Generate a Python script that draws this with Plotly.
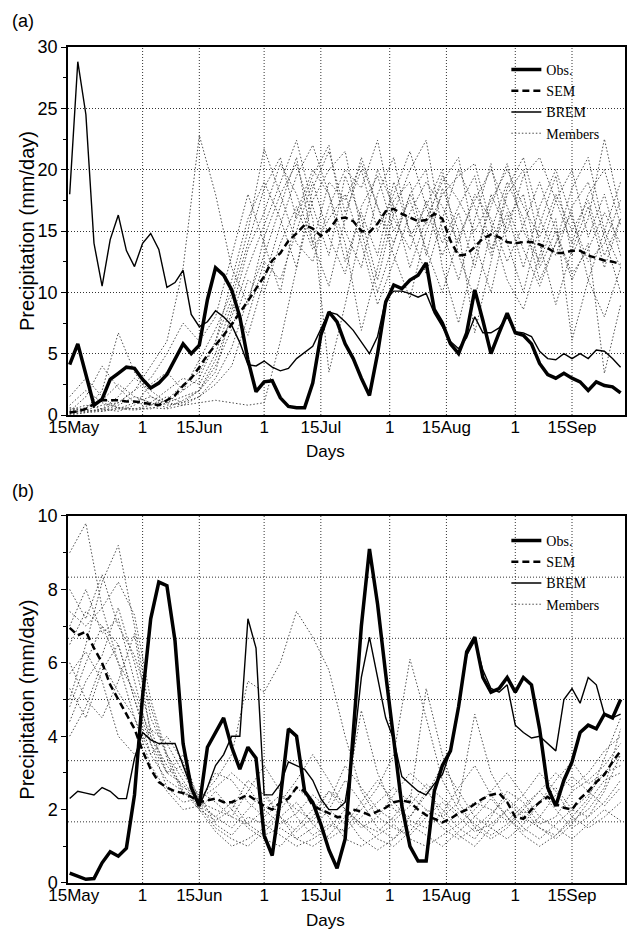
import pandas as pd
import plotly.graph_objects as go

# ---------------- data ----------------
dates = pd.date_range("2000-05-14", periods=69, freq="2D")
member_dates = pd.date_range("2000-05-14", periods=35, freq="4D")

tick_dates = ["2000-05-15", "2000-06-01", "2000-06-15", "2000-07-01", "2000-07-15",
              "2000-08-01", "2000-08-15", "2000-09-01", "2000-09-15"]
tick_labels = ["15May", "1", "15Jun", "1", "15Jul", "1", "15Aug", "1", "15Sep"]

# Panel (a)
obs_a = [4.1, 5.8, 3.3, 0.8, 1.3, 2.9, 3.4, 3.9, 3.8, 2.9,
         2.2, 2.6, 3.3, 4.6, 5.8, 5.0, 5.7, 9.4, 12.0, 11.4,
         10.2, 8.0, 4.5, 1.9, 2.7, 2.8, 1.4, 0.7, 0.6, 0.6,
         2.6, 6.5, 8.4, 7.6, 5.8, 4.6, 3.0, 1.6, 5.0, 9.2,
         10.6, 10.3, 11.0, 11.4, 12.4, 8.6, 7.5, 5.8, 5.0, 6.7,
         10.2, 7.7, 5.0, 6.7, 8.3, 6.7, 6.5, 5.8, 4.2, 3.3,
         3.0, 3.4, 3.0, 2.7, 2.0, 2.7, 2.4, 2.3, 1.8]
sem_a = [0.2, 0.3, 0.5, 0.9, 1.2, 1.2, 1.2, 1.1, 1.1, 1.0,
         0.9, 0.8, 1.2, 1.6, 2.4, 3.0, 3.9, 4.9, 5.7, 6.5,
         7.4, 8.3, 9.3, 10.3, 11.3, 12.6, 13.2, 14.2, 14.8, 15.5,
         15.2, 14.6, 15.1, 16.0, 16.1, 15.8, 15.0, 14.9, 15.6, 16.6,
         16.8, 16.4, 16.1, 15.8, 15.9, 16.4, 16.0, 14.2, 13.0, 13.1,
         13.7, 14.4, 14.7, 14.5, 14.1, 14.0, 14.1, 14.1, 13.9, 13.6,
         13.2, 13.2, 13.4, 13.4, 13.0, 12.8, 12.6, 12.5, 12.3]
brem_a = [18.0, 28.8, 24.5, 14.0, 10.5, 14.3, 16.3, 13.4, 12.1, 14.0,
          14.8, 13.5, 10.4, 10.8, 11.8, 8.2, 7.2, 7.6, 8.5, 8.0,
          7.3, 5.9, 4.1, 4.0, 4.4, 3.9, 3.6, 3.8, 4.6, 5.1,
          5.6, 7.0, 8.4, 8.2, 7.6, 6.9, 6.0, 5.0, 6.4, 9.4,
          10.1, 10.1, 9.9, 9.6, 9.9, 8.3, 7.2, 6.0, 5.4, 6.3,
          8.0, 6.7, 6.7, 7.1, 8.0, 6.8, 6.7, 6.4, 5.2, 4.6,
          4.5, 5.0, 4.6, 5.0, 4.6, 5.3, 5.2, 4.6, 3.9]

mem_a01 = [0.3, 1.5, 4.0, 2.2, 1.0, 0.8, 1.2, 2.5, 3.5, 6.0, 9.5, 14.0, 18.5, 21.0, 16.0, 19.5, 22.0, 15.0, 12.0, 18.0, 21.0, 14.5, 17.0, 20.0, 13.0, 9.5, 15.0, 19.0, 16.0, 11.0, 14.0, 18.5, 21.0, 15.0, 12.0]
mem_a02 = [0.1, 0.5, 2.0, 6.7, 3.5, 1.5, 1.0, 1.5, 2.0, 4.5, 8.0, 12.0, 15.5, 19.0, 22.4, 17.0, 13.0, 19.5, 16.0, 11.0, 16.5, 20.0, 22.4, 15.0, 11.0, 16.0, 20.5, 14.0, 10.0, 15.5, 19.5, 13.0, 16.0, 22.5, 16.5]
mem_a03 = [0.2, 0.4, 0.8, 1.0, 2.0, 3.0, 5.0, 7.5, 6.0, 8.0, 13.0, 18.0, 14.0, 10.0, 16.5, 20.0, 18.0, 14.0, 6.9, 12.0, 17.5, 19.0, 13.0, 18.5, 15.0, 6.7, 12.5, 18.0, 20.0, 14.0, 9.0, 13.5, 17.0, 12.0, 16.0]
mem_a04 = [0.5, 0.3, 0.5, 1.0, 2.0, 4.0, 6.0, 12.0, 22.8, 18.0, 12.0, 9.0, 14.5, 18.0, 20.5, 16.0, 3.5, 9.0, 15.0, 20.0, 17.0, 12.0, 16.0, 19.0, 21.0, 14.0, 10.0, 16.0, 18.0, 12.0, 15.0, 11.0, 14.0, 3.4, 9.0]
mem_a05 = [1.5, 3.0, 1.5, 0.5, 1.0, 1.5, 0.8, 1.0, 1.5, 3.0, 5.5, 9.5, 13.0, 17.0, 21.0, 14.0, 10.5, 16.0, 21.0, 17.0, 13.0, 9.5, 15.0, 18.0, 19.5, 20.5, 15.5, 11.0, 8.6, 13.0, 17.5, 20.0, 14.5, 18.0, 13.0]
mem_a06 = [0.0, 0.2, 0.3, 0.5, 0.4, 0.6, 0.5, 0.8, 1.0, 1.2, 1.0, 0.8, 1.0, 6.0, 12.0, 17.5, 20.0, 21.5, 15.0, 10.0, 14.0, 18.0, 20.0, 12.0, 7.5, 13.0, 17.0, 20.5, 15.0, 12.5, 16.0, 6.1, 11.0, 15.0, 19.0]
mem_a07 = [0.8, 2.0, 1.0, 0.6, 0.5, 0.5, 1.0, 2.0, 4.5, 7.0, 10.0, 15.0, 21.7, 18.0, 14.0, 12.5, 17.0, 20.0, 18.5, 22.4, 16.0, 13.5, 17.5, 14.0, 17.0, 19.5, 13.5, 16.5, 12.0, 17.0, 20.0, 16.0, 12.5, 14.0, 17.5]
mem_a08 = [0.3, 0.6, 1.2, 2.5, 1.5, 1.0, 2.0, 3.0, 2.5, 5.0, 9.0, 6.5, 11.0, 15.5, 19.5, 22.0, 18.0, 12.5, 16.5, 13.0, 19.0, 15.0, 11.5, 16.0, 20.0, 17.0, 13.0, 18.5, 21.0, 16.0, 13.0, 17.0, 19.0, 14.5, 10.0]
mem_a09 = [0.2, 0.3, 0.4, 0.8, 1.5, 1.0, 0.6, 1.2, 2.0, 4.0, 7.0, 11.0, 10.0, 14.0, 17.0, 13.5, 16.0, 18.0, 14.0, 9.0, 12.5, 16.5, 19.0, 17.0, 14.0, 18.0, 16.0, 12.5, 15.5, 19.0, 15.0, 11.5, 13.5, 16.5, 14.0]
mem_a10 = [0.4, 0.8, 0.5, 0.3, 0.8, 2.5, 3.5, 2.0, 3.0, 6.0, 11.0, 16.0, 19.0, 16.0, 12.0, 18.5, 21.5, 16.5, 20.0, 15.0, 18.0, 21.5, 17.0, 13.0, 16.5, 12.0, 18.0, 15.0, 19.5, 21.0, 17.5, 14.0, 18.0, 20.0, 15.5]
mem_a11 = [0.1, 0.2, 0.5, 1.5, 3.0, 2.0, 1.0, 0.8, 1.5, 2.5, 4.0, 8.0, 12.5, 11.0, 15.0, 19.0, 14.5, 11.5, 17.0, 19.5, 15.0, 17.5, 13.5, 10.0, 14.5, 17.5, 20.0, 17.0, 13.5, 10.5, 14.0, 16.5, 11.0, 8.0, 12.0]
mem_a12 = [0.6, 0.4, 0.3, 0.6, 0.5, 0.8, 1.5, 1.0, 2.0, 3.5, 8.5, 13.5, 16.5, 20.5, 18.0, 14.0, 19.0, 17.5, 20.5, 17.0, 14.0, 18.0, 15.5, 19.5, 17.5, 15.0, 17.5, 20.0, 17.0, 14.5, 18.0, 15.0, 17.5, 13.0, 16.0]

# Panel (b)
obs_b = [0.27, 0.18, 0.10, 0.12, 0.55, 0.85, 0.73, 0.95, 2.4, 5.1,
         7.2, 8.2, 8.1, 6.6, 3.8, 2.6, 2.1, 3.7, 4.1, 4.5,
         3.7, 3.1, 3.7, 3.4, 1.3, 0.75, 2.3, 4.2, 4.0, 2.5,
         2.2, 1.6, 0.9, 0.4, 1.2, 4.0, 7.0, 9.1, 7.6, 5.7,
         3.8, 2.1, 1.0, 0.6, 0.6, 2.5, 3.2, 3.6, 4.8, 6.3,
         6.7, 5.6, 5.2, 5.3, 5.6, 5.2, 5.6, 5.4, 4.2, 2.6,
         2.1, 2.8, 3.3, 4.1, 4.3, 4.2, 4.6, 4.5, 5.0]
sem_b = [6.95, 6.75, 6.85, 6.4, 6.0, 5.4, 5.0, 4.6, 4.2, 3.6,
         3.1, 2.75, 2.6, 2.5, 2.45, 2.35, 2.2, 2.25, 2.3, 2.2,
         2.2, 2.3, 2.4, 2.25, 2.1, 2.0, 2.2, 2.3, 2.6, 2.5,
         2.1, 2.0, 1.9, 1.8, 1.8, 2.0, 1.95, 1.85, 1.95, 2.05,
         2.2, 2.25, 2.2, 2.0, 1.85, 1.75, 1.65, 1.75, 1.9, 2.0,
         2.15, 2.3, 2.4, 2.45, 2.2, 1.8, 1.75, 2.0, 2.2, 2.35,
         2.15, 2.05, 2.0, 2.3, 2.5, 2.75, 2.95, 3.3, 3.6]
brem_b = [2.3, 2.5, 2.45, 2.4, 2.6, 2.5, 2.3, 2.3, 3.4, 4.1,
          3.9, 3.8, 3.8, 3.8, 3.2, 2.6, 2.1, 2.6, 3.2, 3.5,
          4.0, 4.0, 7.2, 6.4, 2.4, 2.4, 2.7, 3.3, 3.2, 3.1,
          2.8, 2.3, 2.0, 2.0, 2.2, 3.6, 5.6, 6.7, 5.6, 4.5,
          3.9, 2.9, 2.7, 2.5, 2.4, 2.7, 2.95, 3.6, 4.8, 6.2,
          6.6, 5.8, 5.3, 5.2, 5.4, 4.3, 4.1, 3.95, 4.0, 3.8,
          3.6, 5.0, 5.3, 4.9, 5.6, 5.4, 4.6, 4.5, 4.6]

mem_b01 = [9.0, 9.8, 7.5, 6.0, 4.5, 3.5, 2.8, 2.5, 2.2, 1.8, 1.5, 2.0, 2.5, 1.8, 1.2, 1.5, 2.0, 2.8, 2.2, 1.5, 1.2, 1.8, 2.5, 2.0, 1.5, 1.2, 1.8, 2.5, 2.2, 1.6, 1.8, 2.5, 2.8, 3.2, 3.8]
mem_b02 = [6.5, 7.4, 7.0, 6.5, 5.0, 3.8, 3.0, 3.2, 2.3, 2.8, 3.5, 5.5, 5.2, 6.0, 7.4, 6.7, 5.8, 4.0, 2.5, 1.8, 1.5, 1.3, 1.8, 2.2, 1.8, 1.4, 1.6, 2.0, 1.5, 1.2, 1.6, 2.0, 2.4, 3.0, 3.5]
mem_b03 = [5.0, 6.5, 8.2, 9.2, 7.0, 4.5, 3.5, 2.8, 2.1, 1.5, 1.2, 1.0, 1.4, 1.8, 2.2, 1.6, 1.2, 1.5, 2.0, 2.6, 3.5, 6.1, 4.5, 2.8, 2.0, 1.6, 1.3, 1.6, 2.0, 1.5, 1.2, 1.6, 2.2, 2.8, 3.0]
mem_b04 = [7.4, 7.0, 7.5, 8.2, 7.3, 5.0, 3.5, 2.5, 2.0, 2.5, 2.0, 1.5, 1.2, 1.0, 1.5, 2.0, 2.5, 2.2, 4.7, 3.0, 2.0, 1.8, 2.4, 3.2, 2.5, 1.8, 1.5, 1.2, 1.6, 2.2, 2.6, 2.0, 1.8, 2.5, 3.5]
mem_b05 = [4.4, 5.5, 6.2, 7.5, 6.0, 4.2, 3.0, 3.5, 2.2, 2.0, 1.8, 2.5, 3.2, 2.5, 1.8, 1.3, 1.6, 1.4, 1.8, 2.2, 2.6, 2.2, 5.3, 3.5, 2.2, 1.5, 1.2, 1.5, 2.0, 2.5, 2.0, 1.5, 1.8, 2.2, 2.8]
mem_b06 = [6.0, 5.0, 4.5, 5.5, 6.8, 4.0, 3.2, 2.6, 2.4, 1.6, 1.3, 1.8, 1.6, 1.3, 1.0, 1.2, 1.5, 2.0, 1.6, 1.2, 1.0, 1.4, 2.0, 1.8, 2.2, 4.6, 3.0, 2.2, 1.8, 1.5, 1.3, 1.7, 2.0, 2.6, 4.2]
mem_b07 = [5.7, 6.3, 5.5, 4.0, 3.5, 4.2, 3.8, 3.0, 2.2, 3.0, 2.8, 2.2, 1.8, 2.2, 2.8, 3.5, 2.8, 2.0, 1.5, 1.8, 2.4, 3.0, 2.6, 1.8, 1.3, 1.0, 1.5, 2.0, 2.4, 3.0, 2.5, 1.8, 1.5, 1.8, 2.2]
mem_b08 = [4.0, 4.8, 6.0, 5.2, 4.5, 3.2, 2.5, 2.0, 2.1, 1.8, 2.2, 1.6, 1.3, 1.5, 1.2, 1.0, 1.3, 1.8, 1.2, 0.9, 1.2, 1.6, 1.3, 1.0, 1.4, 1.8, 2.3, 1.8, 1.3, 1.0, 1.3, 1.8, 2.3, 3.4, 4.5]
mem_b09 = [7.0, 8.0, 6.8, 7.2, 5.5, 3.8, 2.6, 2.2, 2.3, 2.6, 3.0, 2.6, 2.0, 1.6, 1.9, 2.4, 2.0, 1.6, 2.2, 2.8, 2.2, 1.7, 1.5, 1.9, 2.6, 3.2, 2.4, 1.8, 1.4, 1.8, 2.4, 2.9, 2.5, 2.1, 2.6]
mem_b10 = [5.3, 4.5, 5.8, 6.5, 5.0, 3.5, 4.0, 3.3, 2.0, 1.4, 1.0, 1.2, 1.5, 2.0, 2.6, 2.2, 1.8, 1.2, 1.0, 1.3, 1.6, 1.2, 1.0, 1.3, 1.6, 2.0, 2.5, 3.0, 2.4, 1.8, 1.5, 1.2, 1.6, 2.0, 1.7]
mem_b11 = [8.0, 7.2, 8.4, 7.0, 6.2, 4.8, 3.4, 2.4, 2.5, 2.2, 1.8, 1.6, 2.0, 2.4, 2.0, 1.7, 2.2, 3.2, 2.6, 2.0, 1.7, 2.1, 2.7, 2.3, 1.9, 2.2, 2.0, 1.7, 2.1, 2.5, 3.0, 2.6, 3.0, 3.6, 4.0]
mem_b12 = [4.8, 6.0, 7.0, 6.0, 5.2, 4.0, 3.0, 2.7, 2.0, 1.7, 2.0, 2.8, 2.4, 1.8, 1.4, 1.8, 2.5, 2.0, 1.6, 1.4, 1.8, 2.4, 2.0, 1.5, 1.2, 1.5, 1.9, 2.3, 1.9, 2.2, 2.8, 3.3, 2.7, 3.0, 3.2]

members_a = [mem_a01, mem_a02, mem_a03, mem_a04, mem_a05, mem_a06,
             mem_a07, mem_a08, mem_a09, mem_a10, mem_a11, mem_a12]
members_b = [mem_b01, mem_b02, mem_b03, mem_b04, mem_b05, mem_b06,
             mem_b07, mem_b08, mem_b09, mem_b10, mem_b11, mem_b12]

# ---------------- styling ----------------
SANS = "Liberation Sans, Arial, sans-serif"
SERIF = "Liberation Serif, Times New Roman, serif"
GRID = "#333333"
GRID_DASH = "1px,2px"
x_start = pd.Timestamp("2000-05-13 14:00")
x_range = [x_start, x_start + pd.Timedelta(days=137.5)]

fig = go.Figure()


def add_panel(xa, ya, leg, obs, sem, brem, members):
    for i, m in enumerate(members):
        fig.add_trace(go.Scatter(
            x=member_dates, y=m, mode="lines", name="Members",
            line=dict(color="#4d4d4d", width=1, dash="1.5px,2px"),
            showlegend=(i == 0), legend=leg, legendrank=4,
            xaxis=xa, yaxis=ya, hoverinfo="skip"))
    fig.add_trace(go.Scatter(
        x=dates, y=sem, mode="lines", name="SEM",
        line=dict(color="black", width=2.5, dash="7px,4px"),
        legend=leg, legendrank=2, xaxis=xa, yaxis=ya))
    fig.add_trace(go.Scatter(
        x=dates, y=brem, mode="lines", name="BREM",
        line=dict(color="black", width=1.4),
        legend=leg, legendrank=3, xaxis=xa, yaxis=ya))
    fig.add_trace(go.Scatter(
        x=dates, y=obs, mode="lines", name="Obs.",
        line=dict(color="black", width=3.5),
        legend=leg, legendrank=1, xaxis=xa, yaxis=ya))


add_panel("x", "y", "legend", obs_a, sem_a, brem_a, members_a)
add_panel("x2", "y2", "legend2", obs_b, sem_b, brem_b, members_b)

# vertical dotted grid lines (all labelled dates except the first)
shapes = []
for xr, yr in (("x", "y domain"), ("x2", "y2 domain")):
    for d in tick_dates[1:]:
        shapes.append(dict(type="line", xref=xr, yref=yr, x0=d, x1=d, y0=0, y1=1,
                           line=dict(color=GRID, width=1, dash=GRID_DASH), layer="below"))
# panel (b) horizontal grid at sixths of the axis
b_max = 10
for i in range(1, 6):
    v = b_max * i / 6
    shapes.append(dict(type="line", xref="x2 domain", yref="y2", x0=0, x1=1, y0=v, y1=v,
                       line=dict(color=GRID, width=1, dash=GRID_DASH), layer="below"))

xcommon = dict(type="date", range=x_range, tickmode="array", tickvals=tick_dates,
               ticktext=tick_labels, showgrid=False, ticks="", ticklen=0, showline=True,
               mirror=True, linecolor="black", linewidth=1.5, zeroline=False,
               ticklabelstandoff=-4,
               tickfont=dict(family=SANS, size=17, color="black"))
ycommon = dict(showline=True, mirror=True, linecolor="black", linewidth=1.5, zeroline=False,
               ticks="outside", ticklen=5, tickcolor="black",
               tickfont=dict(family=SANS, size=18, color="black"))

fig.update_layout(
    width=628, height=933,
    margin=dict(l=68, r=1, t=47, b=50),
    paper_bgcolor="white", plot_bgcolor="white",
    showlegend=True,
    xaxis=dict(domain=[0, 1], anchor="y", **xcommon),
    yaxis=dict(domain=[0.5598, 1], anchor="x", range=[0, 30], dtick=5,
               showgrid=True, gridcolor=GRID, gridwidth=1, griddash=GRID_DASH,
               minor=dict(dtick=2.5, ticks="outside", ticklen=3, tickcolor="black", showgrid=False),
               **ycommon),
    xaxis2=dict(domain=[0, 1], anchor="y2", **xcommon),
    yaxis2=dict(domain=[0, 0.439], anchor="x2", range=[0, b_max], dtick=2,
                showgrid=False,
                minor=dict(dtick=1, ticks="outside", ticklen=3, tickcolor="black", showgrid=False),
                **ycommon),
    legend=dict(x=0.787, y=0.9916, xanchor="left", yanchor="top", bgcolor="rgba(0,0,0,0)",
                font=dict(family=SERIF, size=14, color="black"), itemwidth=30,
                tracegroupgap=0),
    legend2=dict(x=0.787, y=0.4282, xanchor="left", yanchor="top", bgcolor="rgba(0,0,0,0)",
                 font=dict(family=SERIF, size=14, color="black"), itemwidth=30,
                 tracegroupgap=0),
    shapes=shapes,
    annotations=[
        dict(text="(a)", xref="paper", yref="paper", x=-0.0805, y=1.031, showarrow=False,
             xanchor="center", yanchor="middle", font=dict(family=SANS, size=18, color="black")),
        dict(text="(b)", xref="paper", yref="paper", x=-0.0805, y=0.469, showarrow=False,
             xanchor="center", yanchor="middle", font=dict(family=SANS, size=18, color="black")),
        dict(text="Precipitation (mm/day)", xref="paper", yref="paper", x=-0.0733, y=0.78,
             textangle=-90, showarrow=False, xanchor="center", yanchor="middle",
             font=dict(family=SANS, size=20, color="black")),
        dict(text="Precipitation (mm/day)", xref="paper", yref="paper", x=-0.0733, y=0.2195,
             textangle=-90, showarrow=False, xanchor="center", yanchor="middle",
             font=dict(family=SANS, size=20, color="black")),
        dict(text="Days", xref="paper", yref="paper", x=0.4615, y=0.5156, showarrow=False,
             xanchor="center", yanchor="middle", font=dict(family=SANS, size=17, color="black")),
        dict(text="Days", xref="paper", yref="paper", x=0.4615, y=-0.0443, showarrow=False,
             xanchor="center", yanchor="middle", font=dict(family=SANS, size=17, color="black")),
    ],
)

fig.write_html("out.html", config={"displayModeBar": False},
               post_script="document.body.style.margin='0';")
